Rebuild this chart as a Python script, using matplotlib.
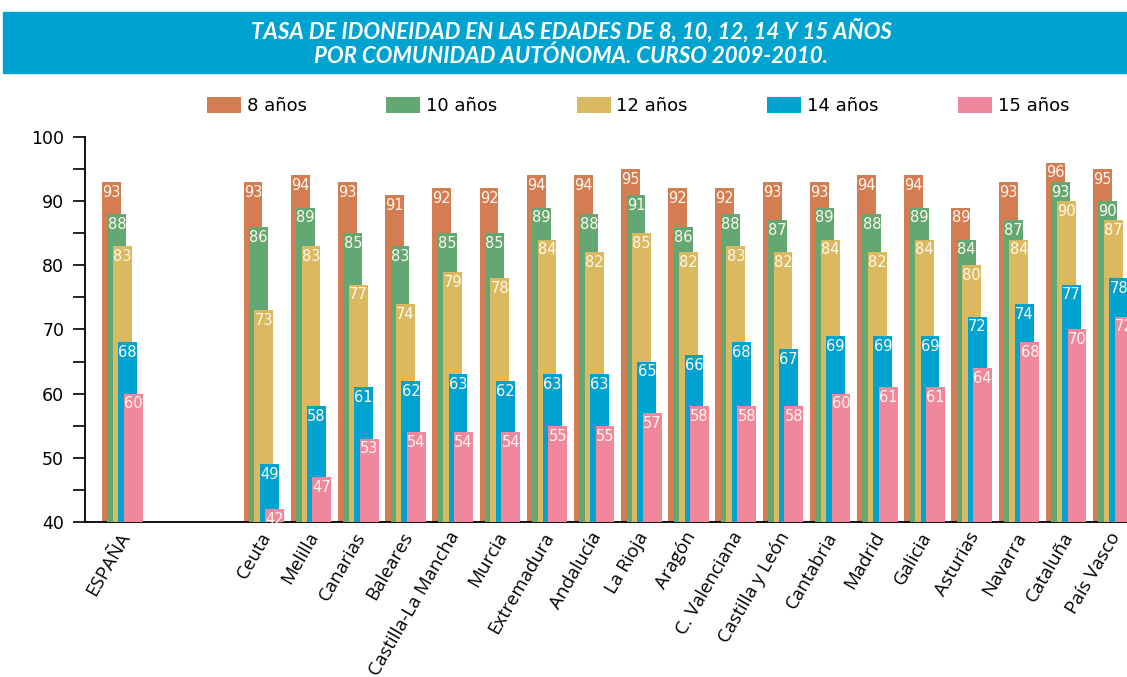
import matplotlib.pyplot as plt
from matplotlib.patches import Rectangle

# datos: tasa de idoneidad por comunidad autonoma, curso 2009-2010
regiones = ['ESPAÑA', 'Ceuta', 'Melilla', 'Canarias', 'Baleares', 'Castilla-La Mancha',
            'Murcia', 'Extremadura', 'Andalucía', 'La Rioja', 'Aragón', 'C. Valenciana',
            'Castilla y León', 'Cantabria', 'Madrid', 'Galicia', 'Asturias', 'Navarra',
            'Cataluña', 'País Vasco']
edad_8 = [93, 93, 94, 93, 91, 92, 92, 94, 94, 95, 92, 92, 93, 93, 94, 94, 89, 93, 96, 95]
edad_10 = [88, 86, 89, 85, 83, 85, 85, 89, 88, 91, 86, 88, 87, 89, 88, 89, 84, 87, 93, 90]
edad_12 = [83, 73, 83, 77, 74, 79, 78, 84, 82, 85, 82, 83, 82, 84, 82, 84, 80, 84, 90, 87]
edad_14 = [68, 49, 58, 61, 62, 63, 62, 63, 63, 65, 66, 68, 67, 69, 69, 69, 72, 74, 77, 78]
edad_15 = [60, 42, 47, 53, 54, 54, 54, 55, 55, 57, 58, 58, 58, 60, 61, 61, 64, 68, 70, 72]

series = [edad_8, edad_10, edad_12, edad_14, edad_15]
nombres = ['8 años', '10 años', '12 años', '14 años', '15 años']
colores = ['#D47C52', '#63A873', '#DBB961', '#00A2CF', '#F0879C']

# ESPAÑA separada del resto por un hueco
posiciones = [0] + [i + 3 for i in range(len(regiones) - 1)]

ancho = 0.40
paso = 0.115

fig = plt.figure(figsize=(11.27, 6.77), dpi=100)

# banda azul del titulo
fig.patches.append(Rectangle((3 / 1127, 1 - 73 / 677), 1, 61 / 677,
                             transform=fig.transFigure, color='#00A3D0', zorder=0))
fig.text(0.507, 1 - 31 / 677, 'TASA DE IDONEIDAD EN LAS EDADES DE 8, 10, 12, 14 Y 15 AÑOS',
         ha='center', va='center', color='white', fontsize=16, fontstyle='italic',
         fontweight='bold', family='Lato')
fig.text(0.507, 1 - 56 / 677, 'POR COMUNIDAD AUTÓNOMA. CURSO 2009-2010.',
         ha='center', va='center', color='white', fontsize=16, fontstyle='italic',
         fontweight='bold', family='Lato')

ax = fig.add_axes([85 / 1127, 1 - 522 / 677, 1 - 85 / 1127, 385 / 677])

for k, (valores, nombre, color) in enumerate(zip(series, nombres, colores)):
    xs = [p + k * paso for p in posiciones]
    ax.bar(xs, valores, width=ancho, align='edge', color=color, label=nombre,
           zorder=2 + k)
    for x, v in zip(xs, valores):
        ax.annotate(str(v), xy=(x + ancho / 2, v), xytext=(0, -2),
                    textcoords='offset points', ha='center', va='top',
                    color='#FFF8EC', fontsize=10.5, zorder=20)

ax.set_ylim(40, 100)
ax.set_xlim(-0.36, 21.72)

ax.set_yticks(range(40, 101, 10))
ax.set_yticks(range(45, 100, 10), minor=True)
ax.tick_params(axis='y', which='both', length=9, width=1.2, direction='out',
               labelsize=12.5, pad=6)

centro = ancho + 4 * paso
ax.set_xticks([p + centro / 2 - 0.1 for p in posiciones])
ax.set_xticklabels(regiones, rotation=60, ha='right', rotation_mode='anchor',
                   fontsize=13.5, family='Open Sans')
ax.tick_params(axis='x', length=0, pad=5)

for lado in ['top', 'right']:
    ax.spines[lado].set_visible(False)
ax.spines['left'].set_linewidth(1.3)
ax.spines['bottom'].set_linewidth(1.3)

fig.legend(loc='center', bbox_to_anchor=(638 / 1127, 1 - 106 / 677), ncol=5,
           frameon=False, fontsize=13, handlelength=1.9, handleheight=1.0,
           handletextpad=0.3, columnspacing=4.4)

fig.savefig('out.png', dpi=100)
